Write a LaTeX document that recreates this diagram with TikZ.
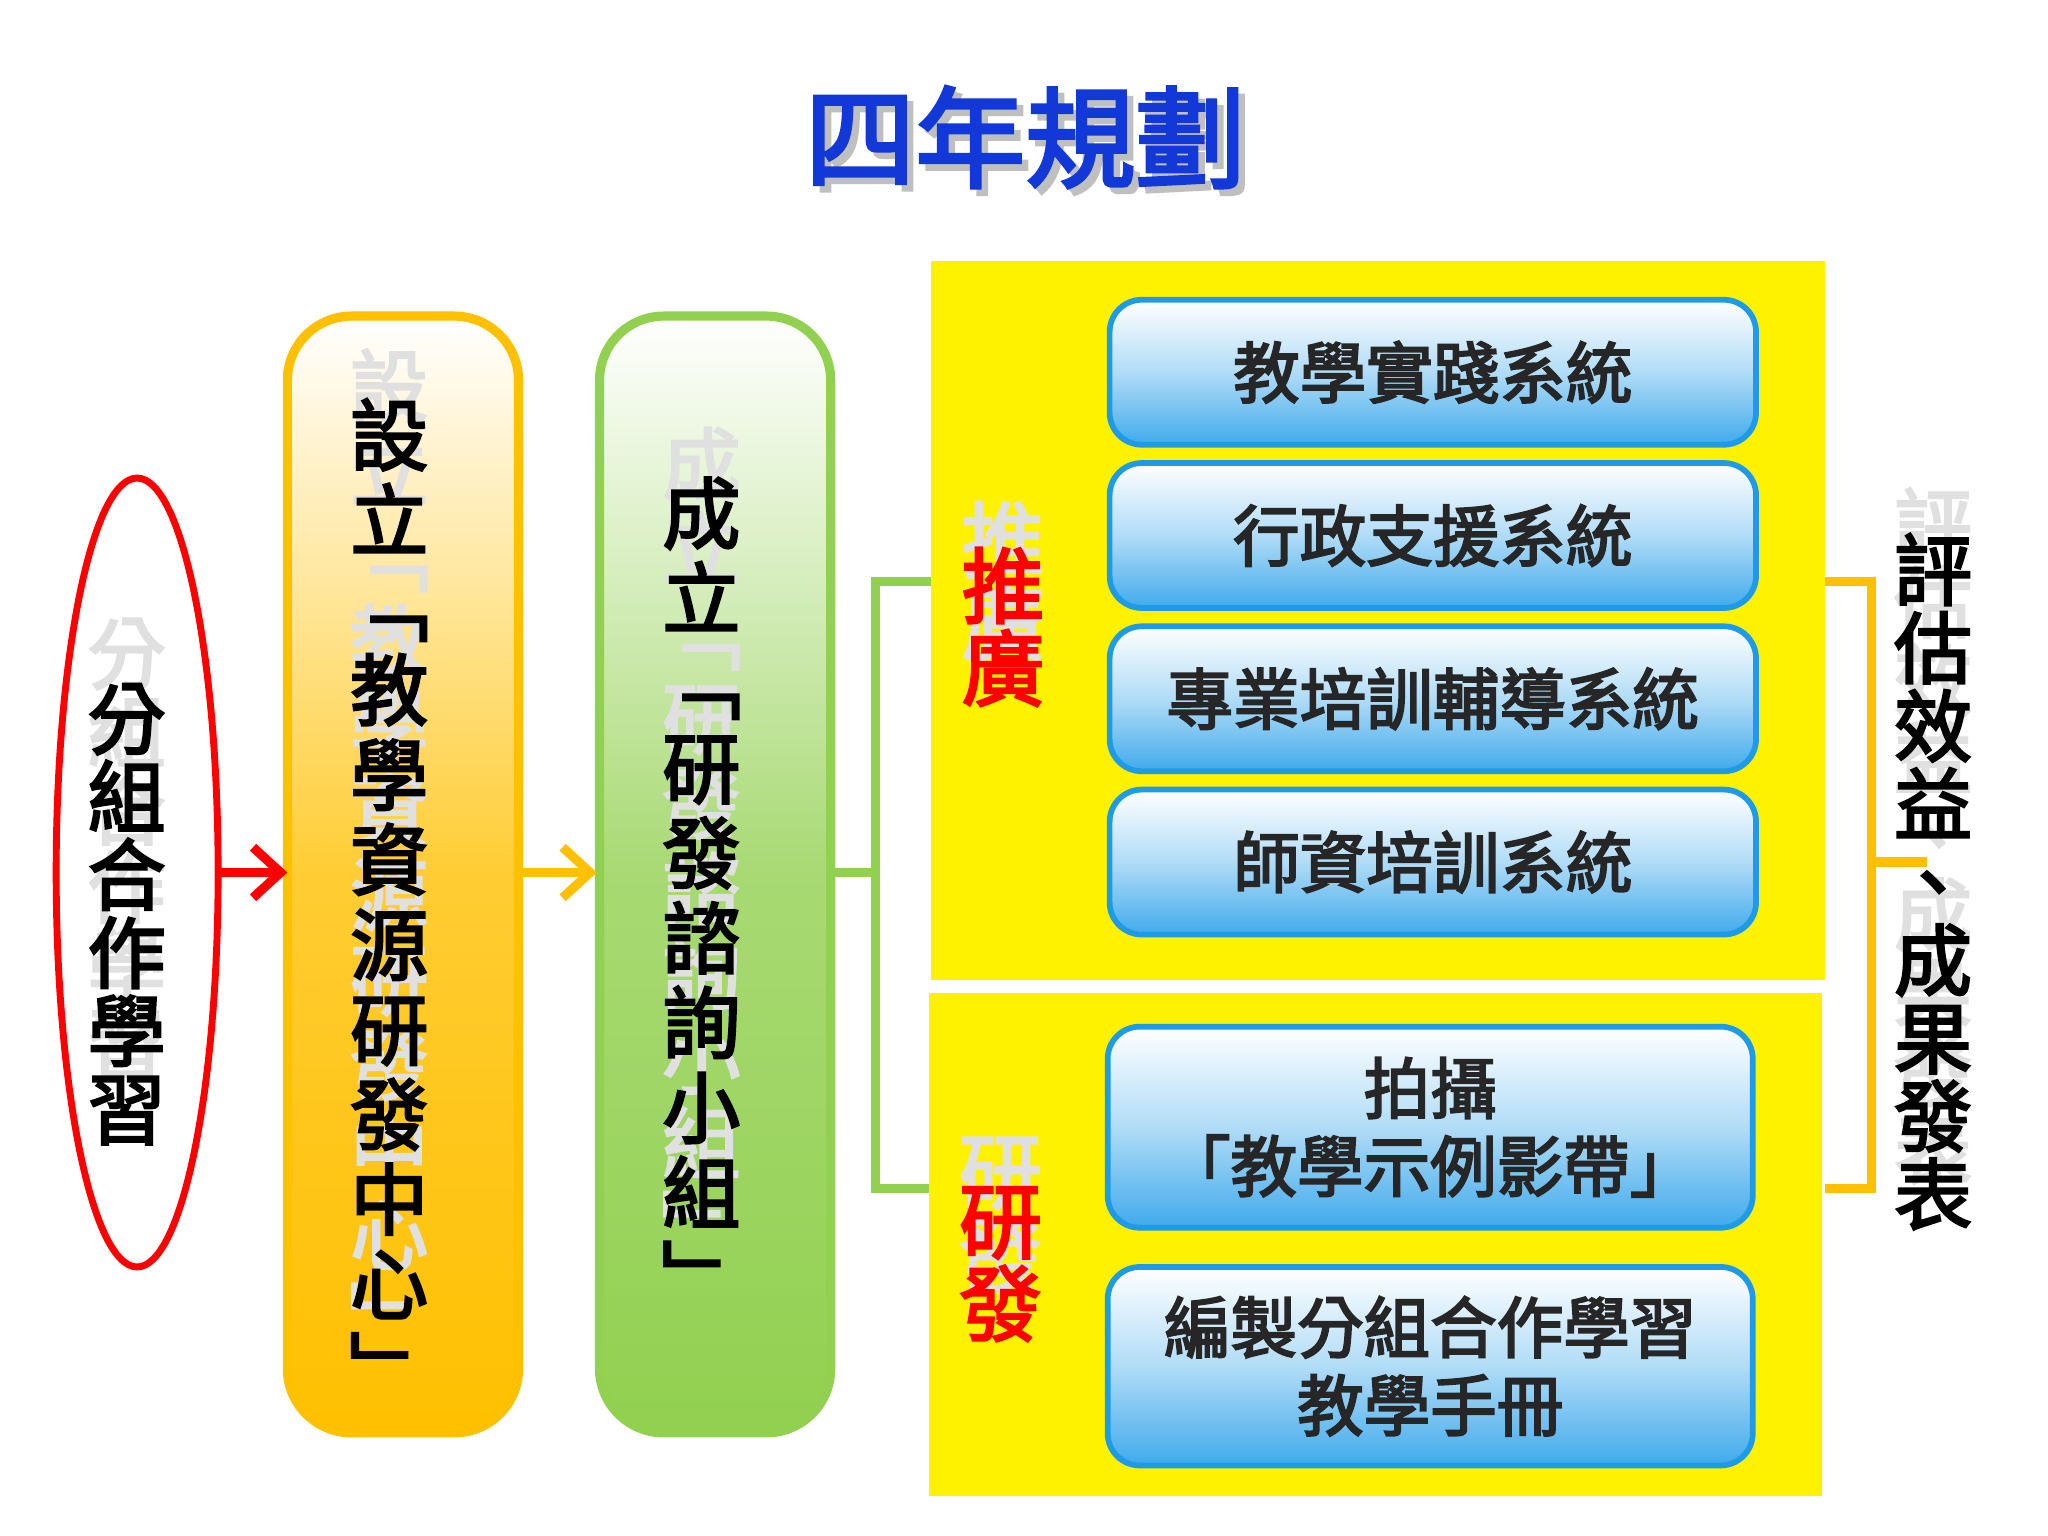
\documentclass[tikz,border=0pt]{standalone}
\usepackage{fontspec}
\newfontfamily\cjk{Noto Sans CJK TC}[AutoFakeBold=3]
\usetikzlibrary{shadings,arrows.meta}
\definecolor{ored}{HTML}{FF0000}
\definecolor{oor}{HTML}{FFC000}
\definecolor{ogr}{HTML}{92D050}
\definecolor{oblue}{HTML}{1E9BE8}
\definecolor{otitle}{HTML}{1238D8}
\tikzset{
 vtext/.style={inner sep=0pt, align=center, font=\fontsize{#1}{#1}\selectfont\cjk\bfseries},
 vtextw/.style={inner sep=0pt, align=center, font=\fontsize{#1}{37pt}\selectfont\cjk\bfseries},
 ghost/.style={vtext=#1, text=black!12},
 ghostw/.style={vtextw=#1, text=black!12},
 bbox/.style={draw=oblue, line width=2.5pt, rounded corners=14pt, top color=white, bottom color=oblue!85, middle color=oblue!35},
 btext/.style={font=\fontsize{29pt}{34pt}\selectfont\cjk\bfseries, align=center, text=black!85},
}
\begin{document}
\begin{tikzpicture}[x=0.02cm,y=-0.02cm]
\useasboundingbox (0,0) rectangle (1568,1176);
\fill[white] (0,0) rectangle (1568,1176);
% title
\node[vtext=48pt, text=gray!50] (ts) at (790,110) {四年規劃};
\node[vtext=48pt, text=otitle] (title) at (785,105) {四年規劃};
% ellipse
\draw[ored, line width=3pt] (105,668) ellipse [x radius=62, y radius=302];
\node[ghost=34pt] (g1) at (97,650) {分\\組\\合\\作\\學\\習};
\node[vtext=34pt] (t1) at (97,700) {分\\組\\合\\作\\學\\習};
\coordinate (e1) at (167,668);
% orange box
\draw[oor, line width=4pt, rounded corners=28pt, top color=white, bottom color=oor, middle color=oor!80] (220,242) rectangle (397,1097);
\node[ghostw=34pt] (g2) at (298,650) {設\\立\\﹁\\教\\學\\資\\源\\研\\發\\中\\心\\﹂};
\node[vtextw=34pt] (t2) at (298,688) {設\\立\\﹁\\教\\學\\資\\源\\研\\發\\中\\心\\﹂};
\coordinate (o1) at (220,668);
\coordinate (o2) at (399,668);
% green box
\draw[ogr, line width=4pt, rounded corners=28pt, top color=white, bottom color=ogr, middle color=ogr!80] (459,242) rectangle (636,1097);
\node[ghostw=34pt] (g3) at (537,645) {成\\立\\﹁\\研\\發\\諮\\詢\\小\\組\\﹂};
\node[vtextw=34pt] (t3) at (537,683) {成\\立\\﹁\\研\\發\\諮\\詢\\小\\組\\﹂};
\coordinate (g1a) at (457,668);
\coordinate (g2a) at (638,668);
% arrows
\draw[ored, line width=4pt, -{Straight Barb[length=12pt,width=22pt]}] (e1) -- (o1);
\draw[oor, line width=4pt, -{Straight Barb[length=12pt,width=22pt]}] (o2) -- (g1a);
% green bracket
\coordinate (bk) at (670,668);
\draw[ogr, line width=4pt] (g2a) -- (bk) (718,445) -- (670,445) -- (670,910) -- (718,910);
% yellow panels
\fill[yellow] (713,200) rectangle (1397,750);
\fill[yellow] (711,760) rectangle (1395,1145);
\node[ghost=36pt] (g4) at (768,445) {推\\廣};
\node[vtext=36pt, text=ored] (t4) at (768,480) {推\\廣};
\node[ghost=36pt] (g5) at (766,930) {研\\發};
\node[vtext=36pt, text=ored] (t5) at (766,968) {研\\發};
% blue boxes
\node[bbox, minimum width=9.9cm, minimum height=2.22cm] (b1) at (1097,285) {};
\node[btext] at (b1) {教學實踐系統};
\node[bbox, minimum width=9.9cm, minimum height=2.22cm] (b2) at (1097,410) {};
\node[btext] at (b2) {行政支援系統};
\node[bbox, minimum width=9.9cm, minimum height=2.22cm] (b3) at (1097,535) {};
\node[btext] at (b3) {專業培訓輔導系統};
\node[bbox, minimum width=9.9cm, minimum height=2.22cm] (b4) at (1097,660) {};
\node[btext] at (b4) {師資培訓系統};
\node[bbox, minimum width=9.88cm, minimum height=3.08cm] (b5) at (1095,863) {};
\node[btext] at (b5) {拍攝\\「教學示例影帶」};
\node[bbox, minimum width=9.88cm, minimum height=3.04cm] (b6) at (1095,1046) {};
\node[btext] at (b6) {編製分組合作學習\\教學手冊};
% right bracket
\draw[oor, line width=4pt] (1397,445) -- (1433,445) -- (1433,910) -- (1397,910) (1433,660) -- (1475,660);
\node[ghost=34pt] (g6) at (1480,640) {評\\估\\效\\益\\、\\成\\果\\發\\表};
\node[vtext=34pt] (t6) at (1480,675) {評\\估\\效\\益\\、\\成\\果\\發\\表};
\end{tikzpicture}
\end{document}
